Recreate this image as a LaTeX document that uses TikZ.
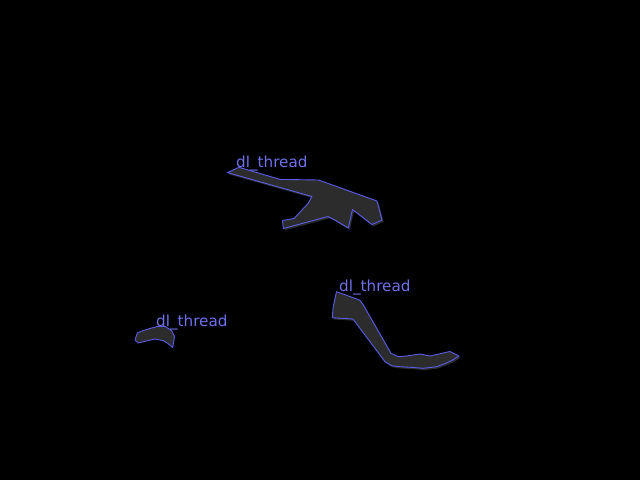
\documentclass[tikz,border=0pt]{standalone}
\usepackage{fontspec}
\setmainfont{DejaVu Sans}
\definecolor{bluel}{RGB}{92,92,232}
\definecolor{bluet}{RGB}{112,112,235}
\definecolor{blobfill}{RGB}{44,44,44}
\tikzset{
  blob/.style={draw=bluel, line width=0.9pt, line join=round},
  shade/.style={fill=blobfill, draw=none},
  lbl/.style={text=bluet, font=\fontsize{15.2}{17}\selectfont, inner sep=0pt, anchor=base west}
}
\begin{document}
\begin{tikzpicture}[x=1pt,y=-1pt]
\useasboundingbox (0,0) rectangle (640,480);
\fill[black] (0,0) rectangle (640,480);
% shape 1
\def\shapeA{(227.5,172.6) -- (239,167.3) -- (280,179.4) -- (318.5,180) -- (377,201) -- (382,220) -- (372,224.5) -- (352.5,209.5) -- (348.3,228) -- (334,219.5) -- (328,216.5) -- (283.3,228.5) -- (282.5,220.5) -- (294,218.5) -- (308,203.5) -- (312,196.5) -- cycle}
\fill[shade, xshift=1.5pt, yshift=-1.8pt] \shapeA;
\fill[shade] \shapeA;
\draw[blob] \shapeA;
% shape 2
\def\shapeB{(336.5,291.7) -- (359.5,300) -- (363,304.5) -- (391,353.3) -- (398.3,356.7) -- (406.7,356) -- (420,354) -- (430,356) -- (441,353.5) -- (450,351.5) -- (459,356) -- (451.7,360.5) -- (445,363.5) -- (436.7,366.7) -- (423.3,368.3) -- (413.3,367.5) -- (400,366.7) -- (391.7,365.7) -- (385,361.7) -- (353,319) -- (332.3,317.7) -- (333,308) -- cycle}
\fill[shade, xshift=1.5pt, yshift=-1.8pt] \shapeB;
\fill[shade] \shapeB;
\draw[blob] \shapeB;
% shape 3
\def\shapeC{(135,340) -- (137.3,333) -- (143.3,330.5) -- (151.7,328) -- (158.3,326.3) -- (165,326.3) -- (171.7,330.7) -- (174.5,336.5) -- (172.7,347.5) -- (168,343.5) -- (163.3,340.7) -- (155,339) -- (145,341.3) -- (138.3,343) -- cycle}
\fill[shade] \shapeC;
\draw[blob] \shapeC;
% labels
\node[lbl] (l1) at (236,167) {dl\_thread};
\node[lbl] (l2) at (339,291.7) {dl\_thread};
\node[lbl] (l3) at (156,326.7) {dl\_thread};
\end{tikzpicture}
\end{document}
